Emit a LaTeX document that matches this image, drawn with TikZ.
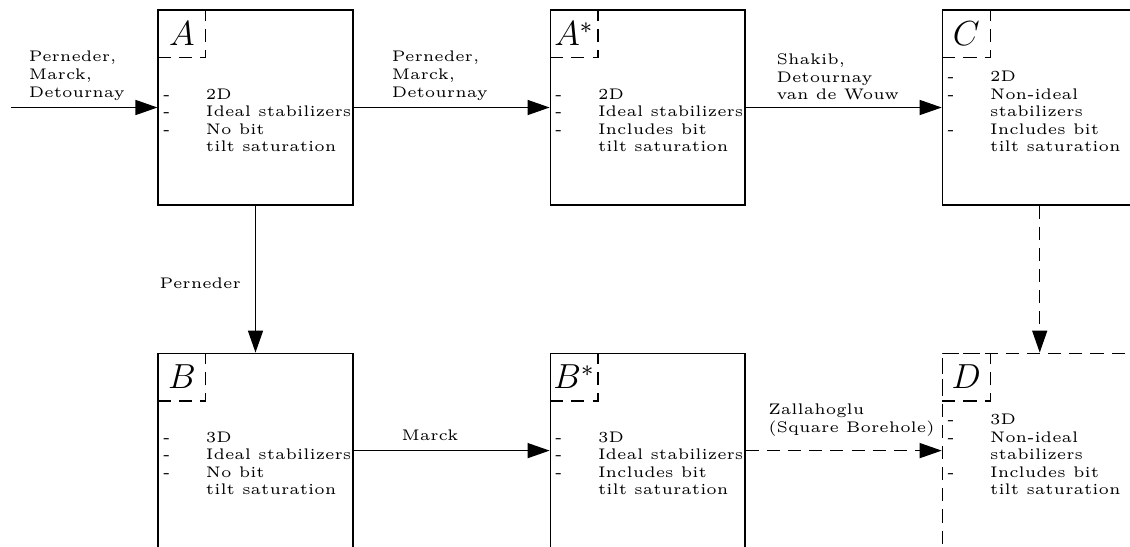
\documentclass[tikz,border=0pt]{standalone}
\usepackage{tikz}
\usetikzlibrary{positioning,arrows.meta}
\tikzset{
  stage/.style={draw,minimum width=67.2pt,minimum height=67.2pt,inner sep=0pt},
  tag/.style={draw,loose,anchor=north west,minimum width=16.5pt,minimum height=16.5pt,inner sep=0pt,font=\large},
  notes/.style={anchor=base west,inner sep=0pt,font=\fontsize{5.3pt}{6pt}\selectfont},
  cite/.style={font=\fontsize{5.3pt}{6.1pt}\selectfont,align=left},
  loose/.style={dash pattern=on 4.5pt off 2.8pt},
  flow/.style={-{Triangle[length=7.6pt,width=5.2pt]}}
}

\begin{document}
\begin{tikzpicture}[x=0.3448pt,y=-0.3448pt]
\path[use as bounding box,clip] (0,0) rectangle (1130,546);

% top row
\node[stage] (A) at (255.5,107.5) {};
\node[stage] (As) [right=67.6pt of A] {};
\node[stage] (C) [right=67.6pt of As] {};
% bottom row
\node[stage] (B) [below=50.7pt of A] {};
\node[stage] (Bs) [right=67.6pt of B] {};
\node[stage,loose] (D) [right=67.6pt of Bs] {};

\node[tag] (A-tag) at (A.north west) {$A$};
\node[tag] (As-tag) at (As.north west) {$A^*$};
\node[tag] (C-tag) at (C.north west) {$C$};
\node[tag] (B-tag) at (B.north west) {$B$};
\node[tag] (Bs-tag) at (Bs.north west) {$B^*$};
\node[tag] (D-tag) at (D.north west) {$D$};

\node[notes] (A-notes) at ([shift={(5,142)}]A.north west) {%
  \begin{tabular}[b]{@{}p{14.8pt}@{}l@{}}
  - & 2D\\ - & Ideal stabilizers\\ - & No bit\\ & tilt saturation
  \end{tabular}};
\node[notes] (As-notes) at ([shift={(5,142)}]As.north west) {%
  \begin{tabular}[b]{@{}p{14.8pt}@{}l@{}}
  - & 2D\\ - & Ideal stabilizers\\ - & Includes bit\\ & tilt saturation
  \end{tabular}};
\node[notes] (C-notes) at ([shift={(5,142)}]C.north west) {%
  \begin{tabular}[b]{@{}p{14.8pt}@{}l@{}}
  - & 2D\\ - & Non-ideal\\ & stabilizers\\ - & Includes bit\\ & tilt saturation
  \end{tabular}};
\node[notes] (B-notes) at ([shift={(5,142)}]B.north west) {%
  \begin{tabular}[b]{@{}p{14.8pt}@{}l@{}}
  - & 3D\\ - & Ideal stabilizers\\ - & No bit\\ & tilt saturation
  \end{tabular}};
\node[notes] (Bs-notes) at ([shift={(5,142)}]Bs.north west) {%
  \begin{tabular}[b]{@{}p{14.8pt}@{}l@{}}
  - & 3D\\ - & Ideal stabilizers\\ - & Includes bit\\ & tilt saturation
  \end{tabular}};
\node[notes] (D-notes) at ([shift={(5,142)}]D.north west) {%
  \begin{tabular}[b]{@{}p{14.8pt}@{}l@{}}
  - & 3D\\ - & Non-ideal\\ & stabilizers\\ - & Includes bit\\ & tilt saturation
  \end{tabular}};

% connectors
\coordinate (start) at (11,107.5);
\draw[flow] (start) -- node[cite,above,pos=0.45,yshift=-1pt] {Perneder,\\Marck,\\Detournay} (A.west);
\draw[flow] (A.east) -- node[cite,above,pos=0.44,yshift=-1pt] {Perneder,\\Marck,\\Detournay} (As.west);
\draw[flow] (As.east) -- node[cite,above,pos=0.47,yshift=-1pt] {Shakib,\\Detournay\\van de Wouw} (C.west);
\draw[flow] (A.south) -- node[cite,left,pos=0.53,xshift=-1.5pt] {Perneder} (B.north);
\draw[flow] (B.east) -- node[cite,above,pos=0.39] {Marck} (Bs.west);
\draw[flow,loose] (Bs.east) -- node[cite,above,pos=0.54,yshift=1.4pt] {Zallahoglu\\(Square Borehole)} (D.west);
\draw[flow,loose] (C.south) -- (D.north);
\end{tikzpicture}
\end{document}
